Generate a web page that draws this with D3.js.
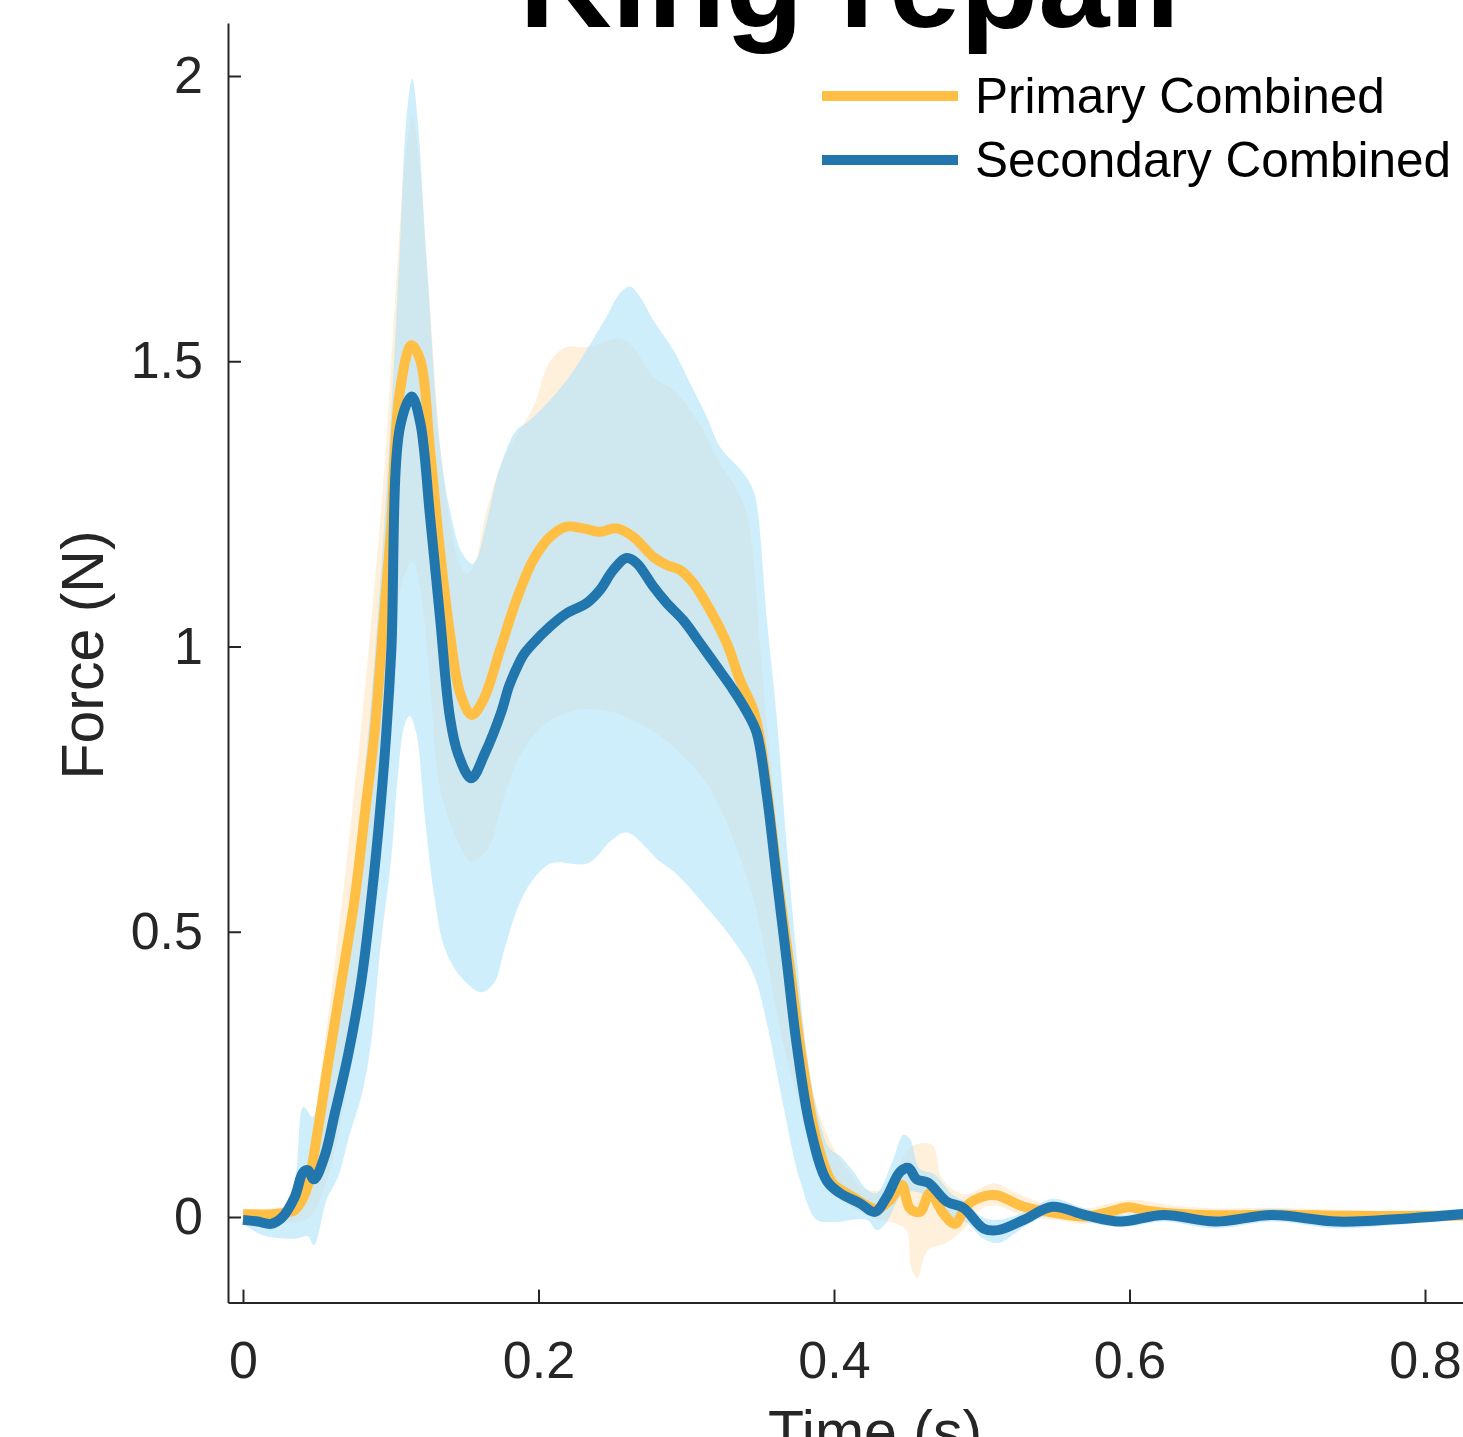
<!DOCTYPE html>
<html>
<head>
<meta charset="utf-8">
<script src="https://cdn.jsdelivr.net/npm/d3@7"></script>
<style>
	body { margin: 0; background: #fff; }
	svg { display: block; font-family: 'Liberation Sans', Arial, sans-serif; }
</style>
</head>
<body>
<svg></svg>
<script>

// time (s), force (N)
const primaryMean = [
	[0, 0.005], [0.02, 0.005], [0.03, 0.008], [0.035, 0.012], [0.04, 0.03], [0.044, 0.056],
	[0.051, 0.158], [0.0575, 0.267], [0.0666, 0.412], [0.0756, 0.558], [0.0823, 0.703], [0.089, 0.848],
	[0.0936, 0.994], [0.1, 1.2], [0.106, 1.444], [0.114, 1.528], [0.12, 1.502], [0.1266, 1.344],
	[0.1333, 1.169], [0.14, 1.024], [0.147, 0.918], [0.1548, 0.88], [0.1626, 0.906], [0.174, 0.994],
	[0.185, 1.081], [0.1965, 1.152], [0.2078, 1.192], [0.219, 1.21], [0.2303, 1.207], [0.2416, 1.201],
	[0.2529, 1.207], [0.2642, 1.192], [0.2777, 1.157], [0.2868, 1.143], [0.2958, 1.134], [0.3048, 1.111],
	[0.3161, 1.064], [0.3274, 1.006], [0.3364, 0.941], [0.3454, 0.889], [0.35, 0.836], [0.356, 0.72],
	[0.3625, 0.58], [0.37, 0.44], [0.377, 0.3], [0.386, 0.16], [0.3935, 0.09], [0.3995, 0.058],
	[0.413, 0.035], [0.4289, 0.014], [0.438, 0.03], [0.4458, 0.056], [0.4514, 0.015], [0.4582, 0.009],
	[0.465, 0.042], [0.474, 0.006], [0.4819, -0.012], [0.4898, 0.02], [0.501, 0.036], [0.51, 0.038],
	[0.5197, 0.028], [0.5285, 0.018], [0.552, 0.006], [0.5698, 0.001], [0.585, 0.008], [0.5993, 0.017],
	[0.61, 0.012], [0.6288, 0.006], [0.6582, 0.003], [0.7, 0.004], [0.75, 0.002], [0.8, 0.002], [0.83, 0.003]
]

const primaryUpper = [
	[0, 0.01], [0.02, 0.015], [0.03, 0.02], [0.04, 0.03], [0.045, 0.08], [0.05, 0.2], [0.06, 0.4],
	[0.07, 0.62], [0.08, 0.86], [0.088, 1.08], [0.0961, 1.327], [0.104, 1.65], [0.11, 1.86], [0.1146, 1.93],
	[0.119, 1.86], [0.125, 1.65], [0.1345, 1.327], [0.14, 1.22], [0.146, 1.15], [0.151, 1.128],
	[0.156, 1.14], [0.165, 1.24], [0.175, 1.32], [0.185, 1.37], [0.1965, 1.42], [0.2078, 1.5],
	[0.219, 1.525], [0.2326, 1.525], [0.245, 1.535], [0.255, 1.54], [0.264, 1.525], [0.2777, 1.473],
	[0.2912, 1.45], [0.3025, 1.415], [0.3138, 1.368], [0.3228, 1.321], [0.3318, 1.286], [0.34, 1.24],
	[0.345, 1.17], [0.35, 1.0], [0.357, 0.8], [0.365, 0.58], [0.373, 0.4], [0.381, 0.27], [0.39, 0.18],
	[0.3995, 0.122], [0.41, 0.08], [0.42, 0.05], [0.4313, 0.047], [0.44, 0.071], [0.452, 0.123],
	[0.4666, 0.126], [0.4724, 0.071], [0.4813, 0.047], [0.49, 0.04], [0.508, 0.059], [0.5197, 0.047],
	[0.535, 0.03], [0.55, 0.02], [0.57, 0.015], [0.6, 0.03], [0.63, 0.02], [0.66, 0.015], [0.7, 0.016],
	[0.75, 0.012], [0.83, 0.01]
]

const primaryLower = [
	[0, -0.003], [0.02, -0.008], [0.035, -0.01], [0.045, 0.0], [0.055, 0.05], [0.065, 0.15],
	[0.075, 0.3], [0.085, 0.55], [0.095, 0.85], [0.103, 1.05], [0.11, 1.13], [0.1146, 1.15],
	[0.12, 1.1], [0.126, 0.95], [0.1342, 0.74], [0.1478, 0.645], [0.1545, 0.623], [0.1658, 0.645],
	[0.1771, 0.74], [0.1884, 0.812], [0.2042, 0.863], [0.2267, 0.889], [0.2493, 0.885], [0.2642, 0.87],
	[0.2868, 0.834], [0.3093, 0.776], [0.3228, 0.718], [0.3364, 0.63], [0.3454, 0.558], [0.3545, 0.449],
	[0.3657, 0.303], [0.377, 0.195], [0.3906, 0.086], [0.4, 0.04], [0.41, 0.02], [0.42, 0.005],
	[0.43, -0.005], [0.44, -0.01], [0.449, -0.023], [0.452, -0.087], [0.4563, -0.107], [0.4636, -0.058],
	[0.4755, -0.046], [0.4873, -0.023], [0.5, 0.015], [0.51, 0.02], [0.52, 0.01], [0.53, 0.0],
	[0.55, -0.005], [0.57, -0.012], [0.6, 0.005], [0.63, -0.005], [0.66, -0.008], [0.7, -0.006],
	[0.75, -0.006], [0.83, -0.004]
]

const secondaryMean = [
	[0, -0.005], [0.01, -0.008], [0.019, -0.012], [0.026, -0.002], [0.035, 0.035], [0.0406, 0.078],
	[0.044, 0.082], [0.048, 0.066], [0.0553, 0.107], [0.062, 0.18], [0.071, 0.282], [0.08, 0.412],
	[0.0869, 0.558], [0.0925, 0.703], [0.097, 0.848], [0.1004, 0.994], [0.1063, 1.385], [0.1142, 1.438],
	[0.12, 1.392], [0.1266, 1.228], [0.1333, 1.052], [0.14, 0.877], [0.1455, 0.812], [0.1545, 0.769],
	[0.1636, 0.812], [0.1748, 0.885], [0.18, 0.93], [0.1852, 0.962], [0.19, 0.986], [0.1965, 1.006],
	[0.2078, 1.035], [0.219, 1.058],
	[0.2326, 1.076], [0.2416, 1.099], [0.2506, 1.134], [0.2597, 1.155], [0.2665, 1.146], [0.2777, 1.105],
	[0.2868, 1.076], [0.298, 1.046], [0.3093, 1.006], [0.3206, 0.965], [0.3318, 0.924], [0.34, 0.89],
	[0.3475, 0.85], [0.3545, 0.74], [0.3612, 0.594], [0.368, 0.449], [0.3747, 0.303], [0.3838, 0.158],
	[0.395, 0.064], [0.404, 0.042], [0.4176, 0.024], [0.4277, 0.009], [0.4357, 0.035], [0.4447, 0.079],
	[0.4503, 0.086], [0.456, 0.066], [0.4638, 0.06], [0.4763, 0.027], [0.4876, 0.016], [0.5011, -0.02],
	[0.511, -0.023], [0.5285, -0.005], [0.5477, 0.018], [0.5698, 0.0035], [0.5934, -0.008], [0.623, 0.0035],
	[0.658, -0.008], [0.6966, 0.0035], [0.7408, -0.008], [0.7909, -0.002], [0.83, 0.006]
]

const secondaryUpper = [
	[0, 0.0], [0.02, -0.005], [0.03, 0.02], [0.036, 0.08], [0.0408, 0.193], [0.047, 0.175],
	[0.052, 0.22], [0.06, 0.34], [0.068, 0.47], [0.076, 0.62], [0.083, 0.8], [0.089, 0.98],
	[0.0984, 1.327], [0.1058, 1.677], [0.1107, 1.93], [0.1146, 1.995], [0.118, 1.93], [0.1243, 1.677],
	[0.1333, 1.35], [0.14, 1.24], [0.148, 1.165], [0.155, 1.145], [0.158, 1.152], [0.165, 1.22],
	[0.174, 1.315], [0.185, 1.379], [0.192, 1.392], [0.2078, 1.432], [0.22, 1.47], [0.2326, 1.52],
	[0.246, 1.578], [0.255, 1.619], [0.262, 1.631], [0.2687, 1.613], [0.2777, 1.572], [0.2912, 1.52],
	[0.3025, 1.462], [0.3138, 1.403], [0.3228, 1.35], [0.3386, 1.304], [0.3454, 1.274], [0.3488, 1.228],
	[0.3544, 1.052], [0.3612, 0.877], [0.368, 0.65], [0.375, 0.45], [0.382, 0.28], [0.39, 0.17],
	[0.397, 0.12], [0.404, 0.107], [0.413, 0.08], [0.422, 0.049], [0.4289, 0.042], [0.44, 0.1],
	[0.447, 0.144], [0.4514, 0.137], [0.458, 0.085], [0.468, 0.075], [0.48, 0.04], [0.49, 0.025],
	[0.5, 0.0], [0.511, -0.005], [0.53, 0.01], [0.548, 0.032], [0.57, 0.015], [0.595, 0.004],
	[0.623, 0.015], [0.658, 0.004], [0.697, 0.015], [0.741, 0.004], [0.79, 0.008], [0.83, 0.016]
]

const secondaryLower = [
	[0, -0.01], [0.0124, -0.031], [0.035, -0.038], [0.044, -0.034], [0.048, -0.049], [0.0566, 0.03],
	[0.0643, 0.07], [0.0724, 0.147], [0.08, 0.21], [0.086, 0.293], [0.0936, 0.485], [0.1004, 0.63],
	[0.1049, 0.776], [0.1094, 0.863], [0.1128, 0.878], [0.1173, 0.848], [0.123, 0.703], [0.1297, 0.558],
	[0.1365, 0.471], [0.1478, 0.42], [0.1613, 0.394], [0.1703, 0.412], [0.1771, 0.471], [0.1861, 0.543],
	[0.1951, 0.587], [0.2087, 0.62], [0.2335, 0.62], [0.2493, 0.66], [0.2597, 0.674], [0.2822, 0.623],
	[0.2935, 0.601], [0.3161, 0.536], [0.3318, 0.485], [0.3454, 0.427], [0.3545, 0.34], [0.3657, 0.195],
	[0.377, 0.064], [0.3883, -0.005], [0.3995, -0.009], [0.4221, -0.005], [0.4289, -0.023], [0.4357, -0.009],
	[0.4447, 0.035], [0.452, 0.045], [0.46, 0.04], [0.47, 0.02], [0.48, 0.0], [0.49, -0.01],
	[0.5011, -0.038], [0.511, -0.046], [0.522, -0.03], [0.53, -0.015], [0.548, 0.005], [0.57, -0.008],
	[0.594, -0.018], [0.623, -0.008], [0.658, -0.02], [0.697, -0.008], [0.741, -0.02], [0.79, -0.012],
	[0.83, -0.004]
]

const seriesNames = ['Primary Combined', 'Secondary Combined']
const xTicks = [0, 0.2, 0.4, 0.6, 0.8]
const yTicks = [0, 0.5, 1, 1.5, 2]

let width = 1463, height = 1437
let axisColor = '#262626'
let colors = { primary: '#ffbf45', secondary: '#2176ae' }

let svg = d3.select('svg')
.attr('width', width)
.attr('height', height)

let scX = d3.scaleLinear()
.domain([-0.01015, 0.83])
.range([228, 228 + 0.84015 * 1477.5])

let scY = d3.scaleLinear()
.domain([-0.15, 2.093])
.range([1217 + 0.15 * 570.5, 1217 - 2.093 * 570.5])

svg.append('defs').append('clipPath').attr('id', 'plot')
.append('rect')
.attr('x', 228).attr('y', 0)
.attr('width', width - 228).attr('height', scY(-0.15))

const line = d3.line()
.x(d => scX(d[0]))
.y(d => scY(d[1]))
.curve(d3.curveCatmullRom.alpha(0.5))

const band = (up, lo) => line(up) + 'L' + line(lo.slice().reverse()).slice(1) + 'Z'

let plot = svg.append('g').attr('clip-path', 'url(#plot)')

plot.append('path')
.attr('d', band(primaryUpper, primaryLower))
.attr('fill', '#fff0dc')

plot.append('path')
.attr('d', band(secondaryUpper, secondaryLower))
.attr('fill', '#b2e4fa')
.attr('fill-opacity', 0.62)

plot.append('path')
.attr('d', line(primaryMean))
.attr('fill', 'none')
.attr('stroke', colors.primary)
.attr('stroke-width', 10)
.attr('stroke-linejoin', 'round')

plot.append('path')
.attr('d', line(secondaryMean))
.attr('fill', 'none')
.attr('stroke', colors.secondary)
.attr('stroke-width', 10)
.attr('stroke-linejoin', 'round')

// axes, ticks inside like matlab
let axX = d3.axisBottom(scX)
.tickValues(xTicks)
.tickFormat(d => String(d))
.tickSizeInner(-13)
.tickSizeOuter(0)
.tickPadding(39)

let axY = d3.axisLeft(scY)
.tickValues(yTicks)
.tickFormat(d => String(d))
.tickSizeInner(-13)
.tickSizeOuter(0)
.tickPadding(25)

let gx = svg.append('g')
.attr('transform', `translate(0, ${scY(-0.15)})`)
.call(axX)

let gy = svg.append('g')
.attr('transform', 'translate(228, 0)')
.call(axY)

for (let g of [gx, gy]) {
	g.select('.domain').attr('stroke', axisColor).attr('stroke-width', 2)
	g.selectAll('.tick line').attr('stroke', axisColor).attr('stroke-width', 2)
	g.selectAll('.tick text')
	.attr('fill', axisColor)
	.style('font-size', '52px')
	.style('font-family', "'Liberation Sans', Arial, sans-serif")
}

svg.append('text')
.attr('transform', 'translate(103, 655) rotate(-90)')
.attr('text-anchor', 'middle')
.attr('fill', axisColor)
.style('font-size', '59px')
.text('Force (N)')

svg.append('text')
.attr('x', 875).attr('y', 1452)
.attr('text-anchor', 'middle')
.attr('fill', axisColor)
.style('font-size', '59px')
.text('Time (s)')

svg.append('text')
.attr('x', 857).attr('y', 27)
.attr('text-anchor', 'middle')
.attr('fill', '#000')
.style('font-size', '128px')
.style('font-weight', 'bold')
.text('King repair')

let legend = svg.append('g')
seriesNames.forEach((name, i) => {
	let y = 96 + i * 64
	legend.append('line')
	.attr('x1', 822).attr('x2', 958)
	.attr('y1', y).attr('y2', y)
	.attr('stroke', i ? colors.secondary : colors.primary)
	.attr('stroke-width', 10)
	legend.append('text')
	.attr('x', 975).attr('y', y)
	.attr('dy', '0.35em')
	.attr('fill', '#000')
	.style('font-size', '49.5px')
	.text(name)
})

</script>
</body>
</html>
